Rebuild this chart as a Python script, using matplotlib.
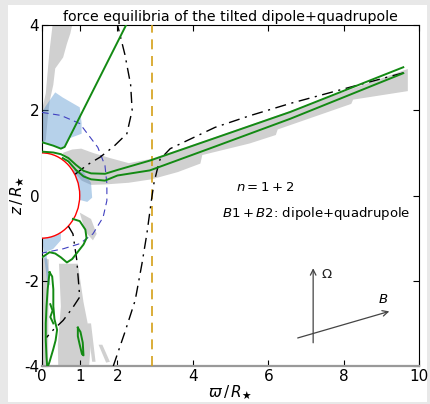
import matplotlib
matplotlib.use("Agg")
import matplotlib.pyplot as plt
from matplotlib.patches import Polygon, Circle, Rectangle

# --- field lines / equilibrium curves (varpi, z) ---
green_a = [(0.0, 1.25), (0.3, 1.17), (0.5, 1.1), (0.6, 1.14), (2.23, 4.0)]
green_up = [(0.0, 1.03), (0.3, 1.01), (0.5, 0.97), (0.7, 0.88), (0.9, 0.72), (1.1, 0.58),
            (1.3, 0.52), (1.67, 0.51), (2.0, 0.6), (2.86, 0.82), (4.59, 1.35), (6.58, 1.96),
            (9.58, 3.01)]
green_lo = [(0.55, 0.88), (0.7, 0.8), (0.9, 0.6), (1.1, 0.45), (1.3, 0.38), (1.67, 0.35),
            (2.0, 0.47), (2.86, 0.59), (4.59, 1.15), (6.58, 1.80), (9.58, 2.87)]
green_loop1 = [(0.82, -0.55), (1.0, -0.6), (1.15, -0.8), (1.18, -1.0), (1.1, -1.15),
               (0.8, -1.49), (0.66, -1.57), (0.5, -1.45), (0.35, -1.36), (0.2, -1.33),
               (0.0, -1.45)]
green_loop2 = [(0.2, -1.8), (0.15, -2.2), (0.12, -2.6), (0.1, -3.0), (0.1, -3.4), (0.12, -3.8),
               (0.14, -4.05), (0.2, -3.9), (0.3, -3.6), (0.36, -3.4), (0.4, -3.15), (0.33, -2.9),
               (0.3, -2.6), (0.3, -2.2), (0.27, -1.9), (0.2, -1.8)]
green_wiggle = [(0.22, -2.55), (0.28, -2.7), (0.22, -2.85), (0.3, -3.0)]
green_loop3 = [(0.95, -3.1), (1.02, -3.2), (1.08, -3.45), (1.1, -3.75), (1.06, -3.72),
               (1.0, -3.5), (0.95, -3.3), (0.95, -3.1)]

dashdot_1 = [(0.88, 0.5), (1.2, 0.72), (1.54, 0.9), (1.9, 1.15), (2.25, 1.45), (2.39, 2.0),
             (2.35, 2.6), (2.2, 3.3), (2.02, 3.94), (2.0, 4.0)]
dashdot_2 = [(1.89, -4.0), (2.2, -3.2), (2.47, -2.46), (2.65, -1.6), (2.78, -0.9), (2.9, -0.12),
             (2.97, 0.3), (3.05, 0.59), (3.13, 0.85), (3.4, 1.1), (3.85, 1.29), (4.59, 1.6),
             (5.5, 1.87), (6.58, 2.16), (8.12, 2.53), (9.63, 2.89)]
dashdot_3 = [(0.7, -0.72), (0.82, -0.9), (0.92, -1.5), (1.0, -2.38), (0.8, -2.65), (0.56, -2.93),
             (0.3, -3.15), (0.12, -3.33)]

corot = [(0.0, 1.95), (0.5, 1.88), (1.0, 1.69), (1.48, 1.13), (1.67, 0.7), (1.72, 0.28),
         (1.72, -0.12), (1.62, -0.51), (1.35, -0.9), (1.0, -1.13), (0.56, -1.25), (0.0, -1.35)]
x_vline = 2.92

# --- shaded regions ---
gray_regions = [
    [(0.28, 4.0), (0.8, 4.0), (0.75, 3.8), (0.66, 3.56), (0.56, 3.24), (0.35, 2.98), (0.3, 2.6),
     (0.2, 2.2), (0.15, 1.8), (0.1, 1.3), (0.0, 1.2), (0.0, 2.0), (0.1, 2.4), (0.2, 3.4)],
    [(0.55, 1.0), (0.8, 1.08), (1.04, 1.1), (1.35, 1.0), (1.8, 0.88), (2.3, 0.76), (2.9, 0.86),
     (4.59, 1.37), (6.6, 1.99), (9.7, 2.97), (9.7, 2.45), (8.25, 2.25), (8.2, 2.15),
     (6.25, 1.55), (6.2, 1.42), (5.5, 1.22), (4.25, 0.95), (4.2, 0.75), (3.6, 0.55),
     (2.9, 0.38), (2.3, 0.3), (1.67, 0.26), (1.3, 0.25), (1.05, 0.35), (0.85, 0.55)],
    [(1.0, -0.4), (1.3, -0.55), (1.45, -0.9), (1.35, -1.05), (1.15, -0.85)],
    [(0.45, -1.6), (0.95, -1.6), (1.1, -2.5), (1.3, -3.4), (1.25, -4.0), (0.43, -4.0),
     (0.42, -3.5), (0.5, -2.6)],
    [(0.03, -1.45), (0.18, -1.5), (0.16, -4.0), (0.02, -4.0)],
    [(1.2, -3.0), (1.3, -3.0), (1.42, -3.9), (1.33, -3.9)],
    [(1.5, -3.5), (1.6, -3.5), (1.8, -3.9), (1.7, -3.92)],
]
blue_regions = [
    [(0.0, 1.25), (0.0, 1.95), (0.1, 2.1), (0.35, 2.42), (0.55, 2.3), (1.0, 2.07), (1.05, 1.7),
     (1.05, 1.45), (0.75, 1.35), (0.55, 1.1), (0.3, 1.17)],
    [(0.82, 0.6), (1.1, 0.55), (1.3, 0.3), (1.33, -0.05), (1.2, -0.15), (0.99, -0.1),
     (1.0, 0.1), (0.95, 0.3)],
    [(0.0, -1.0), (0.3, -0.95), (0.5, -0.87), (0.5, -1.05), (0.3, -1.25), (0.05, -1.35)],
    [(0.05, -1.4), (0.12, -1.4), (0.22, -2.1), (0.15, -2.1)],
]

omega_arrow = [(7.19, -3.52), (7.19, -1.64)]
b_arrow = [(6.71, -3.36), (9.28, -2.70)]


def xs(pts):
    return [p[0] for p in pts]


def ys(pts):
    return [p[1] for p in pts]


fig = plt.figure(figsize=(4.3, 4.04), dpi=100)
fig.patch.set_facecolor("#e8e8e8")
fig.add_artist(Rectangle((0.0186, 0.005), 0.974, 0.983, transform=fig.transFigure,
                         facecolor="white", edgecolor="none", zorder=-1))
ax = fig.add_axes([0.0977, 0.094, 0.877, 0.844])

for poly in gray_regions:
    ax.add_patch(Polygon(poly, closed=True, facecolor="#d0d0d0", edgecolor="none", zorder=1))
for poly in blue_regions:
    ax.add_patch(Polygon(poly, closed=True, facecolor="#4a8ccc", alpha=0.4, edgecolor="none", zorder=2))

ax.add_patch(Circle((0, 0), 1.0, facecolor="white", edgecolor="red", lw=1.0, zorder=3))
ax.plot(xs(corot), ys(corot), ls=(0, (6, 4)), color="#4040c0", lw=0.8, zorder=4)
ax.axvline(x_vline, ls=(0, (6, 4)), color="#d4a017", lw=1.2, zorder=4)

for line in [dashdot_1, dashdot_2, dashdot_3]:
    ax.plot(xs(line), ys(line), color="black", lw=1.0, ls=(0, (8, 4, 1.5, 4)), zorder=5)
for line in [green_a, green_up, green_lo, green_loop1, green_loop2, green_wiggle, green_loop3]:
    ax.plot(xs(line), ys(line), color="#138a13", lw=1.4, zorder=6)

ax.text(5.15, 0.19, "$n = 1 + 2$", fontsize=9.5, va="center")
ax.text(4.77, -0.42, "$B1 + B2$: dipole+quadrupole", fontsize=9.5, va="center")

ax.annotate("", xy=omega_arrow[1], xytext=omega_arrow[0],
            arrowprops=dict(arrowstyle="->", color="#444444", lw=0.9))
ax.text(7.4, -1.85, r"$\Omega$", fontsize=9.5, va="center", color="#222222")
ax.annotate("", xy=b_arrow[1], xytext=b_arrow[0],
            arrowprops=dict(arrowstyle="->", color="#444444", lw=0.9))
ax.text(9.05, -2.45, "$B$", fontsize=9.5, va="center", ha="center")

ax.set_xlim(0, 10)
ax.set_ylim(-4, 4)
ax.set_xticks([0, 1, 2, 4, 6, 8, 10])
ax.set_yticks([-4, -2, 0, 2, 4])
ax.set_yticklabels(["-4", "-2", "0", "2", "4"])
ax.tick_params(direction="in", top=True, right=True, labelsize=11, length=4, pad=2)
ax.spines["bottom"].set_color("#999999")
ax.spines["bottom"].set_linewidth(1.6)
ax.set_xlabel(r"$\varpi\,/\,R_{\bigstar}$", fontsize=11, labelpad=0)
ax.set_ylabel(r"$z\,/\,R_{\bigstar}$", fontsize=11, labelpad=-2)
ax.set_title("force equilibria of the tilted dipole+quadrupole", fontsize=10.2, pad=3)

fig.savefig("out.png", dpi=100, facecolor=fig.get_facecolor())
